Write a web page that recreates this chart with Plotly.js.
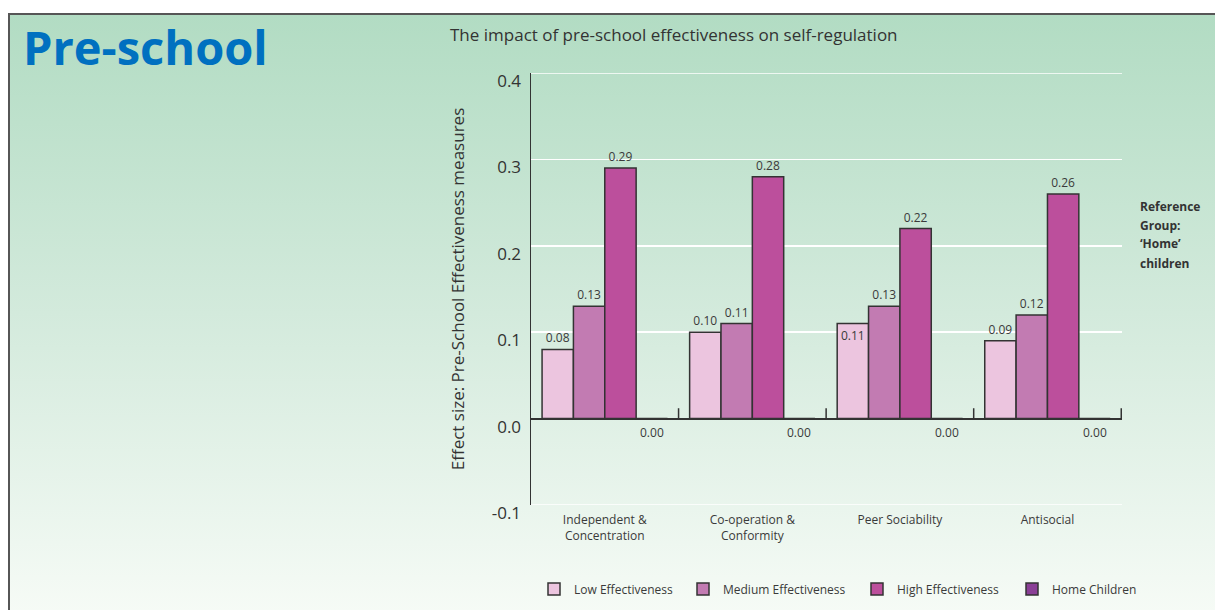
<!DOCTYPE html>
<html>
<head>
<meta charset="utf-8">
<script src="https://cdn.plot.ly/plotly-3.0.1.min.js"></script>
<style>
  html, body { margin: 0; padding: 0; background: #ffffff; }
  #wrap { position: relative; width: 1215px; height: 610px; overflow: hidden; }
  #frame { position: absolute; left: 8px; top: 13px; width: 1207px; height: 597px;
    border-top: 2px solid #565656; border-left: 2px solid #565656;
    background: linear-gradient(to bottom, #b2dcc3 0%, #d3eadc 50%, #f6fbf6 100%); }
  #chart { position: absolute; left: 0; top: 0; width: 1215px; height: 610px; }
</style>
</head>
<body>
<div id="wrap">
  <div id="frame"></div>
  <div id="chart"></div>
</div>
<script>
// ---- data ----
const categories = ['Independent &<br>Concentration', 'Co-operation &<br>Conformity', 'Peer Sociability', 'Antisocial'];
const seriesNames = ['Low Effectiveness', 'Medium Effectiveness', 'High Effectiveness', 'Home Children'];
const lowValues = [0.08, 0.10, 0.11, 0.09];
const mediumValues = [0.13, 0.11, 0.13, 0.12];
const highValues = [0.29, 0.28, 0.22, 0.26];
const homeValues = [0.00, 0.00, 0.00, 0.00];
const yTickValues = [-0.1, 0.0, 0.1, 0.2, 0.3, 0.4];
const yTickLabels = ['-0.1', '0.0', '0.1', '0.2', '0.3', '0.4'];
const referenceLines = ['Reference', 'Group:', '\u2018Home\u2019', 'children'];

// ---- styles ----
const colors = ['#ecc5df', '#c27bb2', '#bc4f9c', '#8a3f96'];
const legendIds = ['legend', 'legend2', 'legend3', 'legend4'];
const legendX = [534, 683, 857, 1012];   // pixel left edge of each legend entry
const textColor = '#3a3a3a';
const FONT = '"Open Sans", "Noto Sans", sans-serif';

function barTrace(idx, values, positions) {
  return {
    type: 'bar', name: seriesNames[idx], x: categories, y: values,
    legend: legendIds[idx],
    marker: { color: colors[idx], line: { color: '#333333', width: 1.5 } },
    text: values.map(v => v.toFixed(2)),
    textposition: positions || 'outside',
    insidetextanchor: 'end',
    textfont: { family: FONT, size: 12, color: textColor },
    insidetextfont: { family: FONT, size: 12, color: textColor },
    outsidetextfont: { family: FONT, size: 12, color: textColor },
    cliponaxis: false,
    hoverinfo: 'x+y'
  };
}

const traces = [
  barTrace(0, lowValues, ['outside', 'outside', 'inside', 'outside']),
  barTrace(1, mediumValues),
  barTrace(2, highValues),
  barTrace(3, homeValues, 'none')
];

const bargap = 0.15;
const plotWidth = 1215 - 531 - 93;
const plotHeight = 610 - 73 - 105;
const barWidthPx = plotWidth / categories.length * (1 - bargap) / 4;

const annotations = [];
// home labels below the zero line
categories.forEach((c, i) => {
  annotations.push({
    xref: 'x', yref: 'y', x: c, y: homeValues[i],
    xshift: 1.5 * barWidthPx, yshift: -3, yanchor: 'top',
    text: homeValues[i].toFixed(2), showarrow: false,
    font: { family: FONT, size: 12, color: textColor }
  });
});
// big heading
annotations.push({
  xref: 'paper', yref: 'paper', x: -510 / plotWidth, y: 1 + (73 - 13) / plotHeight,
  xanchor: 'left', yanchor: 'top', showarrow: false, text: '<b>Pre-school</b>',
  font: { family: FONT, size: 47, color: '#0070c0' }
});
// reference group note
referenceLines.forEach((t, i) => {
  annotations.push({
    xref: 'paper', yref: 'paper', x: (1138 - 531) / plotWidth, y: 1 - (206 + 19 * i - 73) / plotHeight,
    xanchor: 'left', yanchor: 'middle', showarrow: false, text: '<b>' + t + '</b>',
    font: { family: FONT, size: 12, color: '#333333' }
  });
});

const shapes = [];
// gridlines at the two ends of the range (plotly clips these)
[yTickValues[0], yTickValues[yTickValues.length - 1]].forEach(v => {
  shapes.push({
    type: 'line', xref: 'paper', yref: 'y', x0: 0, x1: 1, y0: v, y1: v,
    layer: 'below', line: { color: '#ffffff', width: 1.5 }
  });
});
// small category-boundary ticks on the zero line
for (let i = 0; i < categories.length; i++) {
  shapes.push({
    type: 'line', xref: 'x', yref: 'y', x0: i + 0.5, x1: i + 0.5, y0: 0, y1: 0.012,
    line: { color: '#333333', width: 1.5 }
  });
}

const layout = {
  width: 1215, height: 610,
  paper_bgcolor: 'rgba(0,0,0,0)', plot_bgcolor: 'rgba(0,0,0,0)',
  margin: { l: 531, r: 93, t: 73, b: 105, pad: 0 },
  font: { family: FONT, color: textColor },
  title: {
    text: 'The impact of pre-school effectiveness on self-regulation',
    xref: 'container', yref: 'container', x: 450 / 1215, xanchor: 'left',
    y: 1 - 35 / 610, yanchor: 'middle',
    font: { family: FONT, size: 17, color: '#333333' }
  },
  barmode: 'group', bargap: bargap, bargroupgap: 0,
  xaxis: {
    showline: false, ticks: '', showgrid: false, zeroline: false,
    ticklabelstandoff: 6,
    tickfont: { family: FONT, size: 12, color: textColor }, fixedrange: true
  },
  yaxis: {
    range: [-0.1, 0.4], tickvals: yTickValues, ticktext: yTickLabels,
    showgrid: true, gridcolor: '#ffffff', gridwidth: 1.5,
    zeroline: true, zerolinecolor: '#333333', zerolinewidth: 2,
    showline: true, linecolor: '#333333', linewidth: 1.5,
    ticks: '', ticklabelstandoff: 5, ticklabelshift: 8,
    tickfont: { family: FONT, size: 17, color: '#333333' },
    title: { text: 'Effect size: Pre-School Effectiveness measures', standoff: 23,
      font: { family: FONT, size: 17, color: '#333333' } },
    fixedrange: true
  },
  annotations: annotations,
  shapes: shapes,
  showlegend: true
};

legendIds.forEach((id, i) => {
  layout[id] = {
    orientation: 'h', xref: 'container', x: legendX[i] / 1215, xanchor: 'left',
    yref: 'container', y: 1 - 589 / 610, yanchor: 'middle',
    font: { family: FONT, size: 12, color: textColor },
    bgcolor: 'rgba(0,0,0,0)', borderwidth: 0
  };
});

Plotly.newPlot('chart', traces, layout, { displayModeBar: false, staticPlot: true });
</script>
</body>
</html>
